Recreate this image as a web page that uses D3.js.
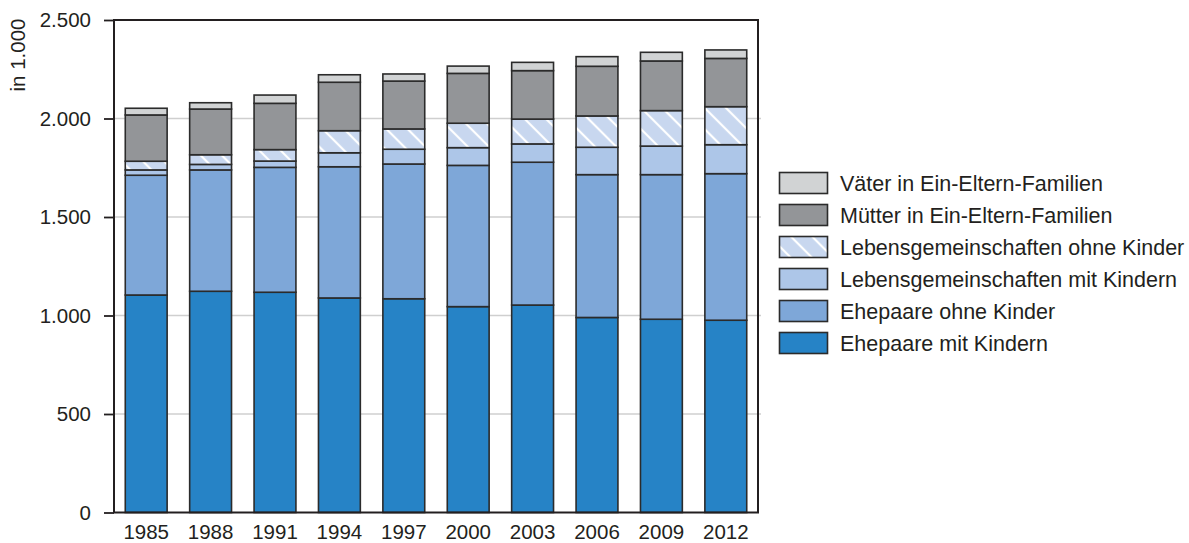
<!DOCTYPE html>
<html><head><meta charset="utf-8">
<script src="https://cdn.jsdelivr.net/npm/d3@7"></script>
<style>
html,body{margin:0;padding:0;background:#fff;}
text{font-family:"Liberation Sans",Arial,sans-serif;fill:#231f20;}
</style></head>
<body>
<svg id="chart" width="1189" height="543"></svg>
<script>
const years = ["1985","1988","1991","1994","1997","2000","2003","2006","2009","2012"];
const ehepaareMitKindern   = [1104,1123,1118,1089,1085,1045,1053,990,981,976];
const ehepaareOhneKinder   = [608,616,634,666,684,717,725,725,734,744];
const lgMitKindern         = [27,28,32,71,75,90,93,139,145,147];
const lgOhneKinder         = [44,49,58,112,103,124,126,159,180,193];
const muetterEinEltern     = [235,232,235,246,243,253,246,252,252,245];
const vaeterEinEltern      = [34,32,42,38,36,37,42,49,44,43];
const yTicks = [0,500,1000,1500,2000,2500];
const yTickLabels = ["0","500","1.000","1.500","2.000","2.500"];
const yAxisTitle = "in 1.000";

const seriesNames = ["Ehepaare mit Kindern","Ehepaare ohne Kinder","Lebensgemeinschaften mit Kindern","Lebensgemeinschaften ohne Kinder","Mütter in Ein-Eltern-Familien","Väter in Ein-Eltern-Familien"];
const seriesValues = [ehepaareMitKindern,ehepaareOhneKinder,lgMitKindern,lgOhneKinder,muetterEinEltern,vaeterEinEltern];
const fills = ["#2683c6","#7ea7d8","#adc6e8","url(#hatch)","#939598","#d1d3d4"];

const svg = d3.select("#chart");
const L=114, R=758, T=20, B=512.5;
const x = d3.scaleBand().domain(years).range([L,R]).paddingInner(0.35).paddingOuter(0.175);
const y = d3.scaleLinear().domain([0,2500]).range([B,T]);

const defs = svg.append("defs");
const pat = defs.append("pattern").attr("id","hatch").attr("patternUnits","userSpaceOnUse")
  .attr("width",15).attr("height",15).attr("patternTransform","rotate(-45)");
pat.append("rect").attr("width",15).attr("height",15).attr("fill","#c8d7ef");
pat.append("line").attr("x1",2).attr("y1",0).attr("x2",2).attr("y2",15).attr("stroke","#fff").attr("stroke-width",2.2);

// gridlines
svg.append("g").selectAll("line").data(yTicks.slice(1,-1)).join("line")
  .attr("x1",L).attr("x2",R+3).attr("y1",d=>y(d)).attr("y2",d=>y(d))
  .attr("stroke","#cfcfcf").attr("stroke-width",1.5);

// stacked data
const table = years.map((yr,i)=>{const o={year:yr}; seriesNames.forEach((s,k)=>o[s]=seriesValues[k][i]); return o;});
const stack = d3.stack().keys(seriesNames)(table);

const g = svg.append("g");
stack.forEach((layer,k)=>{
  g.append("g").selectAll("rect").data(layer).join("rect")
    .attr("x",d=>x(d.data.year)).attr("width",x.bandwidth())
    .attr("y",d=>y(d[1])).attr("height",d=>y(d[0])-y(d[1]))
    .attr("fill",fills[k]).attr("stroke","#2b2b2b").attr("stroke-width",1.6);
});

// frame
svg.append("rect").attr("x",L).attr("y",T).attr("width",R-L).attr("height",B-T)
  .attr("fill","none").attr("stroke","#231f20").attr("stroke-width",2);

// y axis
const yAxis = d3.axisLeft(y).tickValues(yTicks).tickSize(10).tickPadding(13)
  .tickFormat((d,i)=>yTickLabels[i]);
const ya = svg.append("g").attr("transform",`translate(${L},0)`).call(yAxis);
ya.select(".domain").remove();
ya.selectAll("line").attr("stroke","#231f20").attr("stroke-width",1.8);
ya.selectAll("text").attr("font-size",20.5).attr("font-family","Liberation Sans, Arial, sans-serif").attr("fill","#231f20");

// x axis
const xAxis = d3.axisBottom(x).tickSize(0).tickPadding(12);
const xa = svg.append("g").attr("transform",`translate(0,${B})`).call(xAxis);
xa.select(".domain").remove();
xa.selectAll("text").attr("font-size",20.5).attr("font-family","Liberation Sans, Arial, sans-serif").attr("fill","#231f20");

// y title
svg.append("text").attr("transform","translate(25,55) rotate(-90)")
  .attr("text-anchor","middle").attr("font-size",20.5).text(yAxisTitle);

// legend
const legOrder = [5,4,3,2,1,0];
const leg = svg.append("g");
legOrder.forEach((k,i)=>{
  const yy = 172.5 + i*32;
  leg.append("rect").attr("x",779.5).attr("y",yy).attr("width",48).attr("height",21)
    .attr("fill",fills[k]).attr("stroke","#2b2b2b").attr("stroke-width",1.6);
  leg.append("text").attr("x",840).attr("y",yy+10.5).attr("dy","0.36em")
    .attr("font-size",21.5).text(seriesNames[k]);
});
</script>
</body></html>
